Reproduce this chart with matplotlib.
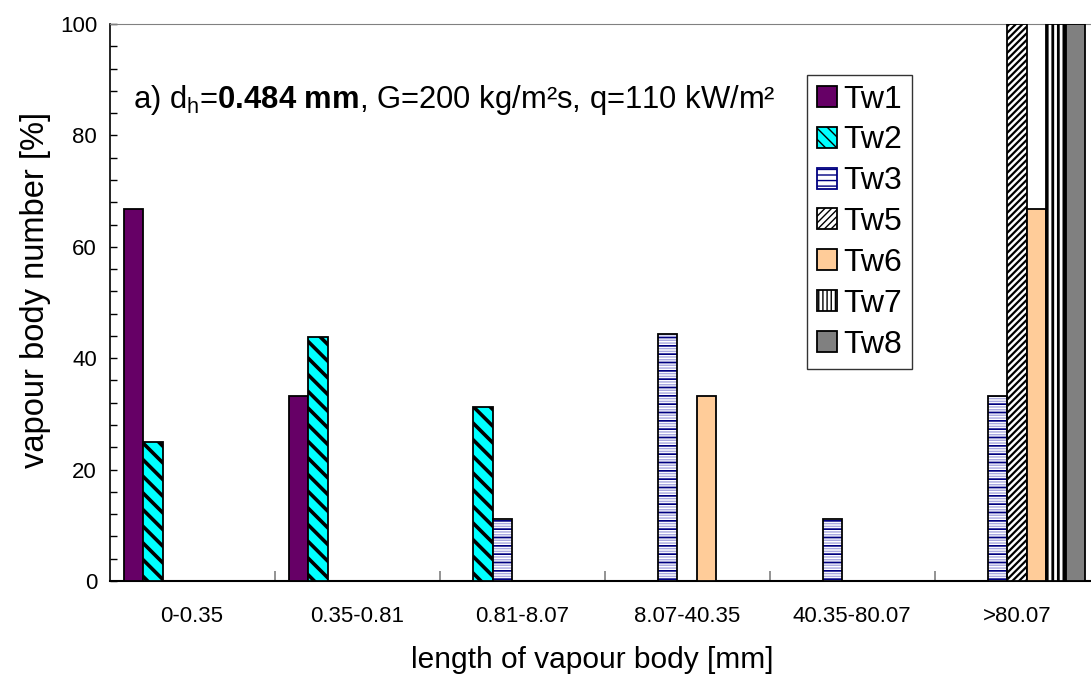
import matplotlib
matplotlib.use("Agg")
import matplotlib.pyplot as plt
import numpy as np

plt.rcParams['font.family'] = ['Liberation Sans', 'DejaVu Sans']
plt.rcParams['mathtext.fontset'] = 'custom'
plt.rcParams['mathtext.rm'] = 'Liberation Sans'
plt.rcParams['mathtext.bf'] = 'Liberation Sans:bold'
plt.rcParams['mathtext.it'] = 'Liberation Sans:italic'

categories = ["0-0.35", "0.35-0.81", "0.81-8.07", "8.07-40.35", "40.35-80.07", ">80.07"]
series_names = ["Tw1", "Tw2", "Tw3", "Tw5", "Tw6", "Tw7", "Tw8"]
tw1 = [66.7, 33.3, 0, 0, 0, 0]
tw2 = [25.0, 43.75, 31.25, 0, 0, 0]
tw3 = [0, 0, 11.1, 44.4, 11.1, 33.3]
tw5 = [0, 0, 0, 0, 0, 100]
tw6 = [0, 0, 0, 33.3, 0, 66.7]
tw7 = [0, 0, 0, 0, 0, 100]
tw8 = [0, 0, 0, 0, 0, 100]
series_values = [tw1, tw2, tw3, tw5, tw6, tw7, tw8]
y_ticks = [0, 20, 40, 60, 80, 100]

W, H = 1091, 678
fig = plt.figure(figsize=(W / 100, H / 100), dpi=100)
ax_left, ax_right, ax_top, ax_bottom = 109.5, 1091, 24, 581
ax = fig.add_axes([ax_left / W, (H - ax_bottom) / H, (ax_right - ax_left) / W, (ax_bottom - ax_top) / H])

group_px = 165.0
x = np.arange(len(categories))
bw = 19.5 / group_px
n = len(series_names)
offsets = (np.arange(n) - (n - 1) / 2) * bw

def hatch_lw(artists, lw):
    for p in artists:
        try:
            p.set_hatch_linewidth(lw)
        except Exception:
            pass

for i, (name, vals) in enumerate(zip(series_names, series_values)):
    xs = x + offsets[i]
    vals = np.array(vals, dtype=float)
    mask = vals > 0
    xs_m, v_m = xs[mask], vals[mask]
    if name == "Tw1":
        ax.bar(xs_m, v_m, bw, color="#660066", edgecolor="black", linewidth=1.3, zorder=3)
    elif name == "Tw2":
        b = ax.bar(xs_m, v_m, bw, color="#00FFFF", edgecolor="black", linewidth=1.3, hatch="\\\\", zorder=3)
        hatch_lw(b, 2.6)
    elif name == "Tw3":
        b1 = ax.bar(xs_m, v_m, bw, color="white", edgecolor="#A8A8E0", linewidth=0, hatch="------", zorder=3)
        hatch_lw(b1, 1.0)
        b2 = ax.bar(xs_m, v_m, bw, color="none", edgecolor="#000080", linewidth=0, hatch="--", zorder=3.1)
        hatch_lw(b2, 1.2)
        ax.bar(xs_m, v_m, bw, color="none", edgecolor="black", linewidth=1.3, zorder=3.2)
    elif name == "Tw5":
        b = ax.bar(xs_m, v_m, bw, color="white", edgecolor="black", linewidth=1.3, hatch="/////", zorder=3)
        hatch_lw(b, 1.6)
    elif name == "Tw6":
        ax.bar(xs_m, v_m, bw, color="#FFCC99", edgecolor="black", linewidth=1.3, zorder=3)
    elif name == "Tw7":
        b = ax.bar(xs_m, v_m, bw, color="white", edgecolor="black", linewidth=1.3, hatch="|||", zorder=3)
        hatch_lw(b, 2.0)
    else:
        ax.bar(xs_m, v_m, bw, color="#808080", edgecolor="black", linewidth=1.3, zorder=3)

# legend handles
from matplotlib.patches import Rectangle
leg_handles = []
for name in series_names:
    if name == "Tw1":
        r = Rectangle((0, 0), 1, 1, facecolor="#660066", edgecolor="black", linewidth=1.3)
    elif name == "Tw2":
        r = Rectangle((0, 0), 1, 1, facecolor="#00FFFF", edgecolor="black", linewidth=1.3, hatch="\\\\\\")
        hatch_lw([r], 2.6)
    elif name == "Tw3":
        r = Rectangle((0, 0), 1, 1, facecolor="white", edgecolor="#000080", linewidth=1.3, hatch="---")
        hatch_lw([r], 1.0)
    elif name == "Tw5":
        r = Rectangle((0, 0), 1, 1, facecolor="white", edgecolor="black", linewidth=1.3, hatch="/////")
        hatch_lw([r], 1.6)
    elif name == "Tw6":
        r = Rectangle((0, 0), 1, 1, facecolor="#FFCC99", edgecolor="black", linewidth=1.3)
    elif name == "Tw7":
        r = Rectangle((0, 0), 1, 1, facecolor="white", edgecolor="black", linewidth=1.3, hatch="||||")
        hatch_lw([r], 2.0)
    else:
        r = Rectangle((0, 0), 1, 1, facecolor="#808080", edgecolor="black", linewidth=1.3)
    leg_handles.append(r)

leg = ax.legend(leg_handles, series_names, loc="upper left",
                bbox_to_anchor=((807 - ax_left) / (ax_right - ax_left), (ax_bottom - 75) / (ax_bottom - ax_top)),
                fontsize=23, frameon=True, fancybox=False, edgecolor="black",
                handlelength=0.63, handleheight=0.63, handletextpad=0.22,
                labelspacing=0.34, borderpad=0.3, borderaxespad=0)
leg.get_frame().set_linewidth(1.0)
leg.set_zorder(5)

ax.set_xlim(-0.5, -0.5 + (ax_right - ax_left) / group_px)
ax.set_ylim(0, 100)
ax.set_yticks(y_ticks)
ax.set_yticks(np.arange(0, 101, 4), minor=True)
ax.tick_params(axis="y", which="both", direction="in", length=5, width=1, labelsize=16, pad=9)
ax.set_xticks(x)
ax.set_xticklabels(categories)
ax.tick_params(axis="x", which="major", length=0, labelsize=16, pad=18)
ax.set_xticks(np.arange(0.5, 5.0, 1.0), minor=True)
ax.tick_params(axis="x", which="minor", direction="in", length=7, width=1.2, color="#808080")

ax.spines["right"].set_visible(False)
ax.spines["top"].set_color("#808080")
ax.spines["left"].set_linewidth(1.2)
ax.spines["bottom"].set_linewidth(1.5)

fig.text(36 / W, 1 - 290 / H, "vapour body number [%]", rotation=90, ha="center", va="center", fontsize=23.5)
fig.text(592 / W, 1 - 660 / H, "length of vapour body [mm]", ha="center", va="center", fontsize=21.5)
ax.text((133 - ax_left) / (ax_right - ax_left), (ax_bottom - 100) / (ax_bottom - ax_top),
        r"a) d$_\mathrm{h}$=$\mathbf{0.484\ mm}$, G=200 kg/m²s, q=110 kW/m²",
        transform=ax.transAxes, ha="left", va="center", fontsize=22.3)

fig.savefig("out.png", dpi=100)
